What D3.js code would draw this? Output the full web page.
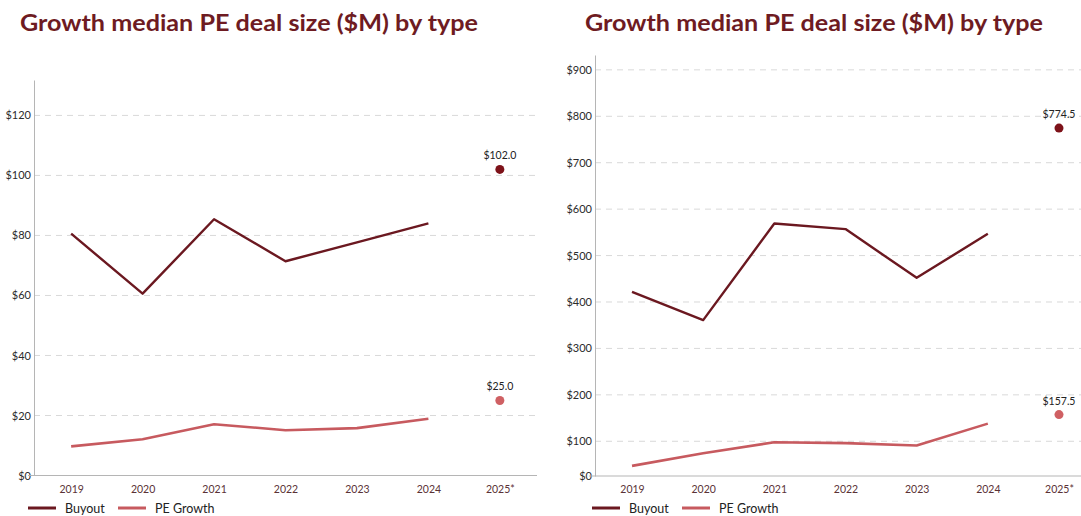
<!DOCTYPE html>
<html>
<head>
<meta charset="utf-8">
<script src="https://cdn.jsdelivr.net/npm/d3@7"></script>
<style>
  html, body { margin: 0; padding: 0; background: #fff; }
  svg { display: block; }
  text { font-family: "Lato", "Inter", sans-serif; }
</style>
</head>
<body>
<svg id="chart" width="1081" height="516"></svg>
<script>
// Categories
const years = ["2019", "2020", "2021", "2022", "2023", "2024", "2025*"];
const seriesNames = ["Buyout", "PE Growth"];

// Left panel values ($M)
const leftBuyout = [80.6, 60.6, 85.4, 71.4, 77.7, 84.0];
const leftGrowth = [9.7, 12.1, 17.1, 15.1, 15.8, 18.9];
const leftBuyout2025 = 102.0;
const leftGrowth2025 = 25.0;
const leftTicks = [0, 20, 40, 60, 80, 100, 120];

// Right panel values ($M)
const rightBuyout = [422, 361, 569, 557, 452, 547];
const rightGrowth = [47, 74, 98, 96, 91, 138];
const rightBuyout2025 = 774.5;
const rightGrowth2025 = 157.5;
const rightTicks = [0, 100, 200, 300, 400, 500, 600, 700, 800, 900];

const titleText = "Growth median PE deal size ($M) by type";

const colors = { buyout: "#6b1820", growth: "#c75a5f", buyoutDot: "#7d1219", growthDot: "#cf6063" };

const svg = d3.select("#chart");

function drawPanel(cfg) {
  const g = svg.append("g");
  const x = d3.scalePoint().domain(years).range([cfg.left, cfg.right]).padding(0.52);
  const y = d3.scaleLinear().domain(cfg.yDomain).range([cfg.bottom, cfg.top]).clamp(true);

  // title
  g.append("text")
    .attr("x", cfg.titleX).attr("y", 31)
    .attr("font-family", "Inter, Lato, sans-serif")
    .attr("font-size", 23).attr("font-weight", 700)
    .attr("fill", "#6e1b22")
    .attr("textLength", 458).attr("lengthAdjust", "spacingAndGlyphs")
    .text(titleText);

  // dashed gridlines
  g.append("g").selectAll("line")
    .data(cfg.ticks.filter(t => t > 0))
    .join("line")
    .attr("x1", cfg.left).attr("x2", cfg.right)
    .attr("y1", d => y(d)).attr("y2", d => y(d))
    .attr("stroke", "#d9d9d9").attr("stroke-width", 1)
    .attr("stroke-dasharray", "6,5");

  // y axis
  const yAxis = g.append("g")
    .attr("transform", `translate(${cfg.left},0)`)
    .call(d3.axisLeft(y).tickValues(cfg.ticks).tickSize(0).tickPadding(3)
      .tickFormat(d => "$" + d));
  yAxis.select(".domain").attr("stroke", "#b5b5b5").attr("stroke-width", 1);
  yAxis.selectAll("text").attr("font-size", 11).attr("fill", "#2b2b2b")
    .attr("font-family", "Lato, sans-serif");

  // x axis
  const xAxis = g.append("g")
    .attr("transform", `translate(0,${cfg.bottom})`)
    .call(d3.axisBottom(x).tickSize(0).tickPadding(10));
  xAxis.select(".domain").remove();
  xAxis.append("line")
    .attr("x1", cfg.left - 6).attr("x2", cfg.right)
    .attr("stroke", "#b5b5b5").attr("stroke-width", 1);
  xAxis.selectAll(".tick text").attr("font-size", 10.5).attr("fill", "#5a3236")
    .attr("font-family", "Lato, sans-serif");

  // lines
  const line = d3.line().x((d, i) => x(years[i])).y(d => y(d));
  g.append("path").datum(cfg.growth).attr("d", line)
    .attr("fill", "none").attr("stroke", colors.growth).attr("stroke-width", 2.6)
    .attr("stroke-linejoin", "round");
  g.append("path").datum(cfg.buyout).attr("d", line)
    .attr("fill", "none").attr("stroke", colors.buyout).attr("stroke-width", 2.4)
    .attr("stroke-linejoin", "round");

  // 2025* points with labels
  const pts = [
    { v: cfg.buyout2025, c: colors.buyoutDot },
    { v: cfg.growth2025, c: colors.growthDot }
  ];
  const last = years[years.length - 1];
  g.selectAll("circle.pt").data(pts).join("circle").attr("class", "pt")
    .attr("cx", x(last)).attr("cy", d => y(d.v)).attr("r", 4.5)
    .attr("fill", d => d.c);
  g.selectAll("text.pt").data(pts).join("text").attr("class", "pt")
    .attr("x", x(last)).attr("y", d => y(d.v) - 10)
    .attr("text-anchor", "middle").attr("font-size", 10.5).attr("fill", "#222")
    .text(d => "$" + d.v.toFixed(1));

  // legend
  const leg = g.append("g").attr("transform", `translate(${cfg.legendX},508)`);
  const items = [
    { name: seriesNames[0], c: colors.buyout, x0: 0 },
    { name: seriesNames[1], c: colors.growth, x0: 90 }
  ];
  items.forEach(it => {
    leg.append("line").attr("x1", it.x0).attr("x2", it.x0 + 28)
      .attr("y1", 0).attr("y2", 0).attr("stroke", it.c).attr("stroke-width", 3);
    leg.append("text").attr("x", it.x0 + 37).attr("y", 4.5)
      .attr("font-size", 12.5).attr("fill", "#222").text(it.name);
  });
}

drawPanel({
  left: 34, right: 537, top: 80, bottom: 475.5,
  yDomain: [0, 131.8], ticks: leftTicks,
  buyout: leftBuyout, growth: leftGrowth,
  buyout2025: leftBuyout2025, growth2025: leftGrowth2025,
  titleX: 20, legendX: 28
});

drawPanel({
  left: 595, right: 1096, top: 55, bottom: 476,
  yDomain: [25.2, 932], ticks: rightTicks,
  buyout: rightBuyout, growth: rightGrowth,
  buyout2025: rightBuyout2025, growth2025: rightGrowth2025,
  titleX: 585, legendX: 592
});
</script>
</body>
</html>
